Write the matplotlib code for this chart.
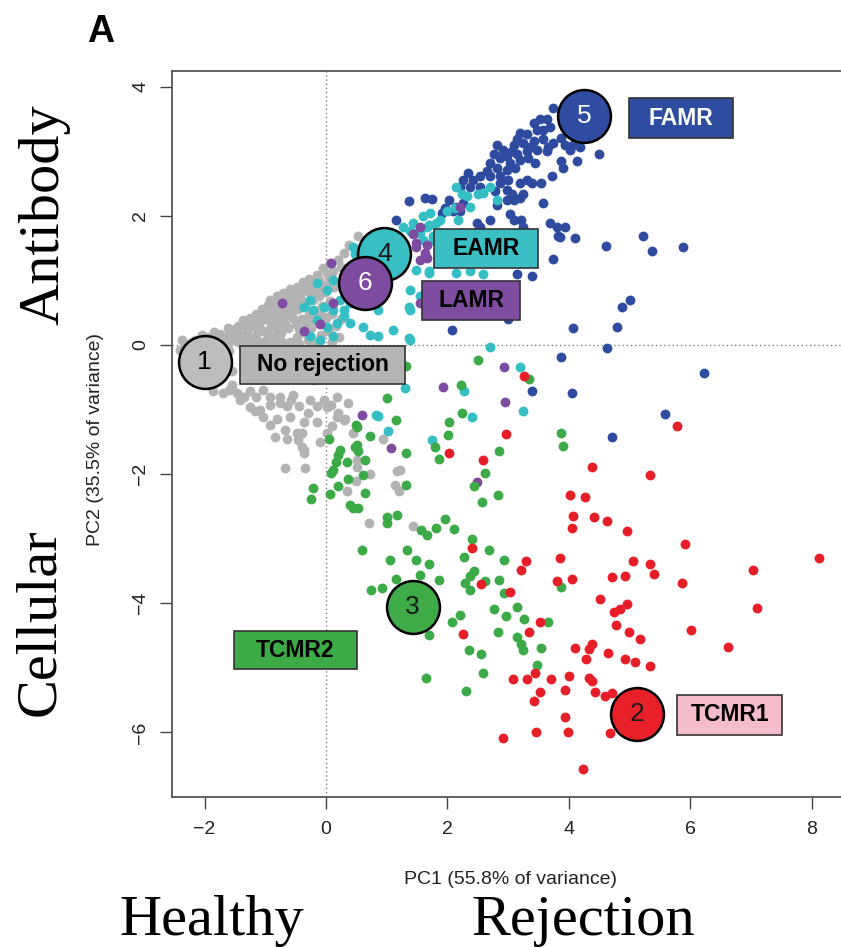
import matplotlib
matplotlib.use('Agg')
import matplotlib.pyplot as plt
from matplotlib.patches import Rectangle

plt.rcParams['font.family'] = ['Liberation Sans', 'DejaVu Sans']

# PCA scores, (PC1, PC2) per biopsy
gray_pts = [
    (-2.30, 0.02), (-2.15, 0.08), (-2.05, 0.15), (-1.95, 0.12), (-1.85, 0.20), (-1.75, 0.17),
    (-1.62, 0.26), (-1.50, 0.24), (-1.45, 0.30), (-1.36, 0.38), (-1.25, 0.42), (-1.15, 0.48),
    (-1.05, 0.55), (-0.95, 0.62), (-0.92, 0.70), (-0.80, 0.75), (-0.70, 0.80), (-0.60, 0.86),
    (-0.48, 0.90), (-0.38, 0.98), (-0.28, 1.02), (-0.15, 1.08), (-0.05, 1.19), (0.07, 1.27),
    (0.20, 1.32), (0.53, 1.68),
    (-1.80, 0.05), (-1.65, 0.10), (-1.52, 0.08), (-1.40, 0.15), (-1.30, 0.22), (-1.18, 0.30),
    (-1.08, 0.36), (-0.98, 0.42), (-0.88, 0.50), (-0.78, 0.58), (-0.66, 0.64), (-0.55, 0.70),
    (-0.42, 0.76), (-0.30, 0.84), (-0.18, 0.88), (-0.08, 0.95), (0.05, 1.05),
    (-1.40, 0.02), (-1.28, 0.10), (-1.15, 0.15), (-1.02, 0.22), (-0.90, 0.28), (-0.78, 0.36),
    (-0.68, 0.44), (-0.58, 0.50), (-0.46, 0.56), (-0.34, 0.62), (-0.22, 0.70), (-0.12, 0.76),
    (-0.02, 0.82),
    (-1.00, 0.06), (-0.86, 0.12), (-0.74, 0.18), (-0.62, 0.26), (-0.50, 0.32), (-0.40, 0.40),
    (-0.28, 0.46), (-0.16, 0.52), (-0.06, 0.60), (0.06, 0.68),
    (-0.60, 0.05), (-0.48, 0.12), (-0.36, 0.20), (-0.24, 0.26), (-0.12, 0.34), (0.00, 0.42),
    (0.10, 0.48), (-0.20, 0.06), (-0.08, 0.15), (0.04, 0.22), (0.16, 0.30), (0.10, 0.05),
    (0.22, 0.12),
    (-2.10, 0.00), (-1.98, 0.04), (-1.90, -0.02), (-1.70, 0.02), (-1.58, 0.18), (-1.47, 0.12),
    (-1.33, 0.30), (-1.22, 0.36), (-1.12, 0.26), (-1.10, 0.42), (-1.00, 0.48), (-0.93, 0.36),
    (-0.85, 0.62), (-0.83, 0.44), (-0.73, 0.68), (-0.72, 0.52), (-0.62, 0.74), (-0.63, 0.58),
    (-0.52, 0.80), (-0.52, 0.62), (-0.40, 0.68), (-0.42, 0.86), (-0.33, 0.92), (-0.25, 0.78),
    (-0.23, 0.96), (-0.12, 1.00), (-0.10, 0.84), (0.00, 0.92), (0.02, 1.12), (0.12, 1.15),
    (0.14, 0.90), (0.25, 1.20), (0.30, 1.42), (0.38, 1.55), (-0.95, 0.15), (-0.80, 0.25),
    (-0.68, 0.32), (-0.55, 0.42), (-0.45, 0.24), (-0.32, 0.32), (-0.20, 0.40), (-0.30, 0.08),
    (-0.44, 0.02), (-0.72, 0.04), (-0.85, 0.02), (-1.10, 0.05), (-1.22, 0.02), (-0.10, 0.48),
    (0.25, 0.40), (-1.62, 0.02), (-1.35, 0.05), (-1.85, 0.10), (-2.20, 0.05), (-2.38, 0.08),
    (-2.40, -0.08), (-2.32, -0.25), (-2.20, -0.40), (-2.05, -0.55), (-1.88, -0.58), (-1.70, -0.48),
    (-1.55, -0.40), (-1.60, -0.10), (-1.75, -0.25), (-2.25, -0.12),
    (-1.30, -0.15), (-1.05, -0.25), (-0.80, -0.10), (-0.55, -0.30), (-0.30, -0.15), (-0.05, -0.35),
    (0.20, -0.20), (-1.20, -0.45), (-0.70, -0.50), (-0.20, -0.55),
    (-1.86, -0.72), (-1.69, -0.75), (-1.47, -0.75), (-1.25, -0.72), (-1.03, -0.70), (-0.92, -0.80),
    (-0.76, -0.80), (-0.54, -0.78), (-1.42, -0.85), (-1.25, -0.96), (-1.09, -1.01), (-0.92, -0.93),
    (-0.76, -0.90), (-0.57, -0.85), (-0.26, -0.85), (-0.04, -0.85), (0.18, -0.80), (-1.03, -1.11),
    (-0.81, -1.14), (-0.59, -1.11), (-0.37, -1.19), (-0.92, -1.24), (-0.68, -1.32), (-0.48, -1.37),
    (-0.84, -1.42), (-0.65, -1.45), (-0.46, -1.47), (-0.40, -1.58), (-0.37, -1.68), (-0.68, -1.91),
    (-0.35, -1.91), (0.01, -1.37), (0.18, -1.11), (0.37, -0.90), (0.31, -1.14), (0.51, -1.78),
    (0.94, -1.45), (1.22, -1.94), (-1.17, -1.03), (0.01, -0.96),
    (-1.60, -0.70), (-1.35, -0.80), (-1.15, -0.80), (-0.65, -0.95), (-0.45, -0.95), (-0.15, -0.95),
    (-1.55, -0.62), (-0.30, -1.05), (-0.15, -1.20), (0.10, -1.25),
    (0.08, -0.93), (0.20, -1.06), (0.29, -1.16), (-0.40, -1.37), (-0.10, -1.50), (-0.37, -1.63),
    (0.45, -1.36), (0.51, -1.89), (0.72, -2.00), (1.17, -1.95), (0.34, -2.26), (0.49, -2.11),
    (1.14, -2.17), (1.21, -2.27), (0.71, -2.76), (1.44, -2.81),
]

blue_pts = [
    (3.74, 3.67), (3.64, 3.49), (3.53, 3.49), (3.42, 3.44), (3.47, 3.33), (3.58, 3.33), (3.69, 3.38),
    (3.20, 3.28), (3.31, 3.26), (3.14, 3.18), (3.09, 3.10), (3.25, 3.13), (3.36, 3.07), (3.47, 3.02),
    (3.42, 3.15), (3.58, 3.18), (3.66, 3.07), (3.74, 3.13), (3.88, 3.20), (3.94, 3.10), (4.07, 3.10),
    (3.64, 3.00), (2.81, 3.10), (2.92, 3.02), (2.76, 2.95), (2.87, 2.89), (2.98, 2.92), (3.06, 3.00),
    (3.14, 2.95), (3.20, 2.87), (3.31, 3.00), (3.33, 2.89), (3.44, 2.82), (3.03, 2.82), (3.11, 2.74),
    (2.98, 2.71), (2.81, 2.74), (2.70, 2.82), (2.65, 2.69), (2.54, 2.61), (2.70, 2.61), (2.87, 2.61),
    (2.43, 2.56), (2.34, 2.66), (2.26, 2.56), (2.21, 2.45), (2.37, 2.45), (2.54, 2.45), (2.87, 2.51),
    (3.00, 2.56), (3.20, 2.51), (3.31, 2.56), (3.39, 2.51), (3.55, 2.51), (3.72, 2.61), (3.88, 2.84),
    (3.91, 2.74), (4.13, 2.84), (4.18, 3.07), (4.49, 2.95), (4.02, 3.02),
    (2.98, 2.40), (3.06, 2.33), (2.98, 2.25), (3.09, 2.25), (3.20, 2.27), (3.25, 2.33), (2.78, 2.38),
    (2.81, 2.17), (3.58, 2.20),
    (2.02, 2.25), (2.15, 2.14), (2.26, 2.20), (2.10, 2.07), (2.21, 2.07), (1.96, 2.12), (1.91, 2.04),
    (1.63, 2.27), (1.74, 2.26), (1.36, 2.22), (1.16, 1.94), (2.48, 1.89), (2.54, 1.83), (2.70, 1.94),
    (3.03, 2.02), (3.09, 1.94), (3.22, 1.94), (3.25, 1.83), (3.69, 1.89), (3.80, 1.83), (3.94, 1.83),
    (3.83, 1.68), (3.74, 1.33), (3.14, 1.09), (3.39, 1.07), (2.98, 0.85), (2.07, 0.23), (3.00, 0.40),
    (1.88, 0.49),
    (3.86, 1.67), (4.10, 1.65), (4.62, 1.53), (5.23, 1.69), (5.37, 1.45), (5.89, 1.51), (5.01, 0.70),
    (4.87, 0.58), (4.07, 0.26), (4.80, 0.28), (4.63, -0.05), (3.88, -0.18), (6.22, -0.44),
    (4.05, -0.74), (5.58, -1.07), (4.72, -1.42), (3.40, -0.71),
]

teal_pts = [
    (0.48, 1.40), (0.51, 1.27), (0.40, 1.06), (0.12, 1.01), (0.01, 0.85), (-0.15, 0.96), (-0.26, 0.70),
    (-0.37, 0.59), (-0.21, 0.54), (-0.04, 0.59), (0.12, 0.54), (0.29, 0.54), (0.23, 0.70), (0.40, 0.65),
    (-0.15, 0.39), (0.01, 0.28), (0.18, 0.34), (0.29, 0.44), (0.40, 0.34), (-0.26, 0.13), (-0.10, 0.08),
    (0.12, 0.13), (0.61, 0.28), (0.72, 0.16), (0.86, 0.14), (1.11, 0.23), (1.36, 0.10), (1.38, 0.85),
    (1.49, 1.16), (1.69, 1.14), (0.85, 0.54), (1.36, 0.58), (0.45, 1.52), (1.71, 2.04), (1.82, 1.89),
    (1.49, 1.73), (1.69, 1.86), (1.77, 1.63), (1.88, 1.73), (1.30, -0.67), (0.83, -1.09),
    (0.86, -1.10), (1.03, -1.34), (1.74, -1.47), (2.41, -1.11), (3.24, -1.03),
    (2.15, 2.45), (2.24, 2.33), (2.32, 2.30), (2.13, 2.12), (1.99, 2.07), (2.18, 1.94), (1.88, 1.94),
    (1.60, 1.99), (1.44, 1.89), (1.38, 1.76), (1.27, 1.83), (1.66, 1.83), (1.55, 1.73), (1.77, 1.68),
    (1.60, 1.63), (2.59, 2.35), (2.70, 2.45), (2.81, 2.25), (2.51, 2.33), (2.37, 2.14), (2.15, 1.11),
    (2.59, 1.09), (2.37, 1.14), (1.69, 1.11), (1.38, 0.54), (1.55, 0.75), (1.38, 0.08), (2.70, -0.03),
    (2.27, -0.72), (3.20, -0.35),
]

purple_pts = [
    (0.09, 1.27), (-0.73, 0.65), (-0.37, 0.21), (-0.10, 0.33), (0.12, 0.65), (1.49, 1.52), (1.63, 1.42),
    (1.66, 1.34), (1.55, 0.65), (1.93, -0.65), (0.59, -1.09), (1.07, -1.60), (2.95, -0.88),
    (2.48, -2.12), (2.94, -0.34), (1.55, 1.83), (1.49, 1.58), (1.66, 1.55), (1.44, 1.71), (2.21, 2.14),
    (1.55, 1.32),
]

green_pts = [
    (3.88, -1.36), (3.90, -1.56), (3.88, -3.75), (3.65, -4.29), (3.55, -4.70),
    (1.69, -4.49), (2.07, -4.29), (2.20, -4.18), (2.76, -4.09), (2.96, -4.20), (3.15, -4.06),
    (3.26, -4.25), (2.83, -4.45), (3.14, -4.52), (3.22, -4.63), (3.24, -4.73), (2.36, -4.73),
    (2.55, -4.78), (1.65, -5.16), (2.58, -5.08), (2.31, -5.36), (3.47, -4.95),
    (2.24, -1.05), (2.03, -1.20), (2.01, -1.39), (1.15, -1.17), (0.72, -1.41), (0.49, -1.24),
    (0.05, -1.46), (0.23, -1.62), (0.20, -1.71), (0.16, -1.81), (0.12, -1.94), (0.08, -1.98),
    (0.51, -1.55), (0.53, -1.65), (0.64, -1.79), (0.34, -1.81), (1.32, -1.68), (1.80, -1.58),
    (1.87, -1.76), (0.61, -2.02), (0.37, -2.08), (0.20, -2.19), (0.07, -2.31), (-0.22, -2.21),
    (-0.25, -2.39), (0.64, -2.29), (1.32, -2.17), (0.40, -2.48), (0.45, -2.52), (0.52, -2.53),
    (1.00, -2.66), (1.01, -2.76), (1.17, -2.63), (0.60, -3.17), (1.05, -3.33), (1.34, -3.18),
    (1.48, -3.33), (1.69, -3.40), (1.56, -2.86), (1.66, -2.95), (1.81, -2.83), (1.96, -2.70),
    (2.11, -2.85), (2.40, -3.00), (2.68, -3.17), (2.27, -3.28), (2.94, -3.33), (2.44, -3.50),
    (2.37, -3.58), (2.29, -3.69), (2.38, -3.79), (2.62, -3.66), (2.85, -3.64), (1.16, -3.63),
    (1.55, -3.57), (1.86, -3.64), (0.75, -3.79), (0.92, -3.77), (2.93, -3.84), (2.62, -1.98),
    (2.57, -2.44), (2.44, -2.19), (2.85, -1.64), (2.84, -2.33),
    (2.50, -0.24), (1.32, -0.33), (2.22, -0.62), (1.00, -0.82), (3.34, -0.53), (0.51, -1.27),
    (0.48, -1.58),
]

red_pts = [
    (5.79, -1.26), (4.38, -1.89), (5.34, -2.02), (4.02, -2.33), (4.27, -2.36), (4.07, -2.65),
    (4.42, -2.66), (4.63, -2.72), (4.05, -2.84), (4.96, -2.88), (5.91, -3.09), (8.12, -3.30),
    (3.86, -3.30), (5.05, -3.35), (5.34, -3.40), (5.41, -3.54), (7.04, -3.49), (3.81, -3.65),
    (4.06, -3.63), (4.71, -3.60), (4.93, -3.58), (5.86, -3.68), (4.51, -3.93), (4.96, -4.01),
    (4.84, -4.09), (4.74, -4.13), (7.10, -4.08), (3.53, -4.29), (4.78, -4.33), (6.01, -4.42),
    (4.99, -4.44), (5.17, -4.56), (6.62, -4.67), (4.11, -4.70), (4.39, -4.63), (4.33, -4.71),
    (4.29, -4.87), (4.64, -4.77), (4.92, -4.87), (5.09, -4.91), (5.34, -4.97), (3.70, -5.17),
    (4.00, -5.13), (4.33, -5.16), (4.39, -5.21), (3.94, -5.34), (4.44, -5.37), (4.60, -5.43),
    (4.71, -5.39), (3.53, -5.37), (3.94, -5.76), (3.99, -6.00), (4.68, -6.01), (4.23, -6.56),
    (2.25, -4.47), (3.34, -4.45), (3.44, -5.08), (3.08, -5.18), (3.31, -5.18), (3.42, -5.51),
    (3.46, -6.00), (2.91, -6.08),
    (2.56, -3.70), (2.40, -3.15), (3.29, -3.35), (3.21, -3.49), (2.96, -1.38), (2.03, -1.67),
    (2.59, -1.78), (3.03, -3.82), (3.26, -0.48),
]

# cluster centroids (numbered circles)
cent_num = ['1', '2', '3', '4', '5', '6']
cent_x = [-2.00, 5.13, 1.43, 0.96, 4.25, 0.64]
cent_y = [-0.27, -5.72, -4.06, 1.40, 3.55, 0.96]
cent_fill = ['#bdbdbd', '#e8202a', '#3eab48', '#38bec3', '#2f4ca0', '#7e4c9f']
cent_txt = ['black', '#1a1a1a', '#1a1a1a', '#1a1a1a', 'white', 'white']

# cluster name boxes: (x0, x1, y0, y1) in data units
box_names = ['No rejection', 'EAMR', 'LAMR', 'FAMR', 'TCMR2', 'TCMR1']
box_ext = [(-1.41, 1.30, -0.60, -0.02), (1.78, 3.50, 1.19, 1.80), (1.59, 3.20, 0.39, 0.99),
           (4.99, 6.71, 3.20, 3.82), (-1.52, 0.51, -5.02, -4.43), (5.79, 7.52, -6.04, -5.42)]
box_fill = ['#b5b5b5', '#3bbfc4', '#7e4da0', '#2f4da0', '#3daa48', '#f5bdcb']
box_txt = ['black', 'black', 'black', 'white', 'black', 'black']

fig = plt.figure(figsize=(8.41, 9.47), dpi=100)
ax = fig.add_axes([0.2045, 0.1584, 0.8038, 0.7666])

ax.axvline(0, color='#808080', lw=1, ls=(0, (1, 2)), zorder=0.5)
ax.axhline(0, color='#808080', lw=1, ls=(0, (1, 2)), zorder=0.5)

for pts, col in [(gray_pts, '#b3b3b3'), (blue_pts, '#2e4ba0'), (teal_pts, '#35bec3'),
                 (purple_pts, '#7d4ba0'), (green_pts, '#3caa46'), (red_pts, '#e61e28')]:
    xs, ys = zip(*pts)
    ax.scatter(xs, ys, s=50, c=col, linewidths=0, zorder=2)

for (x0, x1, y0, y1), name, fc, tc in zip(box_ext, box_names, box_fill, box_txt):
    ax.add_patch(Rectangle((x0, y0), x1 - x0, y1 - y0, facecolor=fc, edgecolor='#333333',
                           lw=1.2, zorder=4))
    ax.text((x0 + x1) / 2, (y0 + y1) / 2, name, ha='center', va='center', fontsize=16.5,
            fontweight='bold', color=tc, zorder=5)

for i in range(len(cent_num)):
    ax.scatter(cent_x[i], cent_y[i], s=1450, c=cent_fill[i], edgecolors='black',
               linewidths=1.8, zorder=6 + i)
    ax.text(cent_x[i], cent_y[i], cent_num[i], ha='center', va='center', fontsize=19,
            color=cent_txt[i], zorder=6 + i)

ax.set_xlim(-2.537, 8.6)
ax.set_ylim(-7.0, 4.24)
ax.set_xticks([-2, 0, 2, 4, 6, 8])
ax.set_yticks([-6, -4, -2, 0, 2, 4])
ax.set_xticklabels(['\u22122', '0', '2', '4', '6', '8'])
ax.set_yticklabels(['\u22126', '\u22124', '\u22122', '0', '2', '4'], rotation=90, va='center')
ax.tick_params(direction='out', length=8.5, width=1, color='#444444', labelsize=14,
               labelcolor='#222222')
ax.tick_params(axis='x', pad=9)
ax.tick_params(axis='y', pad=8)
for sp in ax.spines.values():
    sp.set_color('#555555')
    sp.set_linewidth(1.3)

fig.text(510 / 841, 1 - 879 / 947, 'PC1 (55.8% of variance)', ha='center', va='center',
         fontsize=14, color='#222222')
fig.text(95 / 841, 1 - 440 / 947, 'PC2 (35.5% of variance)', ha='center', va='center',
         rotation=90, fontsize=14, color='#222222')

fig.text(101 / 841, 1 - 32 / 947, 'A', ha='center', va='center', fontsize=27, fontweight='bold')

serif = dict(family='Liberation Serif', fontsize=42, color='black')
fig.text(44 / 841, 1 - 215 / 947, 'Antibody', rotation=90, ha='center', va='center', **serif)
fig.text(40 / 841, 1 - 622 / 947, 'Cellular', rotation=90, ha='center', va='center', **serif)
fig.text(212 / 841, 1 - 935 / 947, 'Healthy', ha='center', va='baseline', **serif)
fig.text(583 / 841, 1 - 935 / 947, 'Rejection', ha='center', va='baseline', **serif)

fig.savefig('out.png', dpi=100)
